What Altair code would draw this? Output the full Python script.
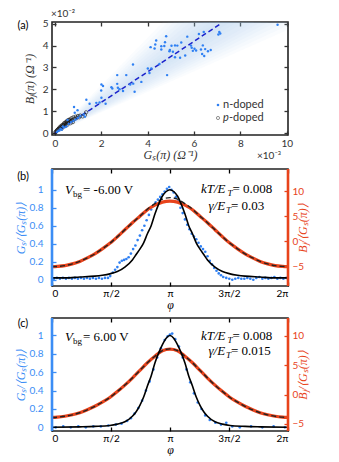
import altair as alt
import pandas as pd

# ---------------- panel (a) data (x in 1e-3 Ohm^-1, y in 1e-2 Ohm^-1) ----------------
n_x = [9.60, 7.09, 7.13, 7.05, 6.42, 6.21, 5.71, 5.45, 5.03, 5.18, 5.28, 4.96, 5.09, 4.80, 4.75, 4.72,
       5.40, 5.62, 5.18, 5.87, 5.90, 5.95, 6.02, 6.09, 6.30, 6.35, 6.44, 6.38, 6.48, 6.60, 6.72,
       4.37, 4.33, 4.13, 4.30, 4.59, 4.59, 4.94,
       3.37, 4.01, 4.16, 4.08, 4.51, 4.84, 3.73, 3.44, 3.08, 2.69, 2.69, 2.72, 2.79, 2.94, 2.48,
       2.01, 2.08, 2.01, 1.79, 2.19, 1.93, 1.50, 1.36, 0.83, 0.98, 0.86, 3.25, 3.38, 2.44, 2.00,
       0.10, 0.20, 0.30, 0.40, 0.50, 0.60, 0.70, 0.80, 0.90, 1.00, 1.10, 1.25, 0.55, 0.35, 0.25, 1.30, 0.15]
n_y = [4.95, 4.62, 4.55, 4.51, 4.62, 4.53, 4.41, 4.14, 3.99, 4.01, 4.00, 3.80, 3.72, 4.43, 4.15, 3.98,
       3.44, 3.55, 3.47, 4.00, 3.90, 3.76, 3.86, 3.78, 3.82, 3.62, 3.52, 4.01, 3.84, 3.74, 3.80,
       4.23, 4.05, 3.93, 3.87, 3.97, 3.82, 3.74,
       3.14, 2.95, 2.95, 2.75, 3.16, 2.65, 2.34, 1.89, 2.65, 2.65, 2.25, 2.07, 2.00, 1.92, 2.04,
       2.22, 2.15, 1.61, 1.38, 1.34, 1.40, 1.34, 1.52, 1.19, 1.04, 0.93, 2.22, 2.26, 2.10, 1.95,
       0.05, 0.12, 0.15, 0.25, 0.30, 0.42, 0.50, 0.55, 0.62, 0.70, 0.78, 0.85, 0.60, 0.30, 0.20, 0.75, 0.10]
p_x = [0.02, 0.05, 0.08, 0.10, 0.12, 0.15, 0.18, 0.20, 0.22, 0.25, 0.28, 0.30, 0.32, 0.35, 0.38, 0.40,
       0.42, 0.45, 0.48, 0.50, 0.52, 0.55, 0.58, 0.60, 0.62, 0.65, 0.70, 0.72, 0.75, 0.80, 0.85, 0.90,
       0.95, 1.00, 1.05, 1.10, 1.20, 1.30, 1.35, 0.30, 0.45, 0.55, 0.68, 0.78]
p_y = [0.03, 0.06, 0.10, 0.12, 0.15, 0.18, 0.20, 0.25, 0.22, 0.30, 0.28, 0.35, 0.30, 0.38, 0.36, 0.45,
       0.40, 0.48, 0.42, 0.50, 0.55, 0.48, 0.60, 0.52, 0.58, 0.62, 0.55, 0.68, 0.60, 0.72, 0.65, 0.75,
       0.70, 0.78, 0.72, 0.80, 0.76, 0.82, 0.95, 0.20, 0.32, 0.38, 0.45, 0.50]
fit_x = [0.0, 7.15]
fit_y = [0.0, 5.0]
band_lo = [0.47, 0.49, 0.51, 0.53, 0.55, 0.57, 0.59, 0.62, 0.645, 0.67]   # shaded cone edge slopes
band_hi = [1.09, 1.04, 0.99, 0.95, 0.91, 0.87, 0.83, 0.79, 0.76, 0.73]
a_xticks = [0, 2, 4, 6, 8, 10]
a_yticks = [0, 1, 2, 3, 4, 5]

# ---------------- panel (b) data ----------------
b_dot_phi = [0.05, 0.13, 0.21, 0.29, 0.37, 0.45, 0.53, 0.61, 0.69, 0.77, 0.85, 0.93, 1.01, 1.09, 1.17, 1.25,
             1.33, 1.41, 1.49,
             1.55, 1.62, 1.68, 1.74, 1.80, 1.86, 1.92, 1.98, 2.04, 2.10, 2.16, 2.22, 2.28, 2.34, 2.40, 2.46,
             2.52, 2.58, 2.64, 2.70, 2.76, 2.82, 2.88, 2.94, 3.00, 3.06, 3.12, 3.18, 3.24, 3.30, 3.36, 3.42,
             3.48, 3.54, 3.60, 3.66, 3.72, 3.78, 3.84, 3.90, 3.96, 4.02, 4.08, 4.14, 4.20, 4.26, 4.32, 4.38,
             4.44, 4.50, 4.56,
             4.64, 4.72, 4.80, 4.88, 4.96, 5.04, 5.12, 5.20, 5.28, 5.36, 5.44, 5.52, 5.60, 5.68, 5.76, 5.84,
             5.92, 6.00, 6.08, 6.16, 6.24]
b_dot_val = [0.01, 0.02, 0.01, 0.02, 0.01, 0.02, 0.01, 0.02, 0.01, 0.02, 0.01, 0.02, 0.01, 0.02, 0.01, 0.02,
             0.01, 0.02, 0.02,
             0.04, 0.08, 0.11, 0.14, 0.19, 0.21, 0.22, 0.23, 0.25, 0.29, 0.34, 0.38, 0.44, 0.49, 0.55, 0.60,
             0.66, 0.72, 0.78, 0.82, 0.86, 0.89, 0.92, 0.95, 0.98, 1.01, 1.03, 1.00, 0.97, 0.92, 0.87, 0.80,
             0.74, 0.67, 0.61, 0.56, 0.51, 0.48, 0.45, 0.41, 0.37, 0.34, 0.31, 0.26, 0.21, 0.17, 0.13, 0.10,
             0.07, 0.05, 0.03,
             0.02, 0.01, 0.00, 0.01, 0.02, 0.01, 0.01, 0.02, 0.01, 0.00, 0.02, 0.03, 0.01, 0.02, 0.01, 0.02,
             0.03, 0.01, 0.02, 0.01, 0.02]
b_fit_phi = [0.0, 0.34, 0.74, 1.14, 1.34, 1.54, 1.74, 1.94, 2.14, 2.24, 2.34, 2.44, 2.54, 2.64, 2.74, 2.84,
             2.94, 3.04, 3.14, 3.24, 3.34, 3.44, 3.54, 3.64, 3.74, 3.84, 3.94, 4.04, 4.14, 4.34, 4.54, 4.74,
             4.94, 5.14, 5.54, 5.94, 6.28]
b_fit_val = [0.02, 0.02, 0.03, 0.04, 0.05, 0.065, 0.09, 0.14, 0.22, 0.28, 0.34, 0.41, 0.51, 0.60, 0.73, 0.84,
             0.93, 0.98, 1.0, 0.98, 0.93, 0.84, 0.73, 0.60, 0.51, 0.41, 0.34, 0.28, 0.22, 0.14, 0.09, 0.065,
             0.05, 0.04, 0.03, 0.02, 0.02]
bj_phi = [0.0, 0.14, 0.34, 0.54, 0.74, 0.94, 1.14, 1.34, 1.54, 1.74, 1.94, 2.14, 2.34, 2.54, 2.74, 2.94, 3.14,
          3.34, 3.54, 3.74, 3.94, 4.14, 4.34, 4.54, 4.74, 4.94, 5.14, 5.34, 5.54, 5.74, 5.94, 6.14, 6.28]
b_bj_val = [-5.05, -5.0, -4.85, -4.5, -4.0, -3.3, -2.5, -1.5, -0.4, 0.9, 2.3, 3.7, 5.0, 6.3, 7.2, 7.8, 8.0,
            7.8, 7.2, 6.3, 5.0, 3.7, 2.3, 0.9, -0.4, -1.5, -2.5, -3.3, -4.0, -4.5, -4.85, -5.0, -5.05]
b_bjfit_val = [-5.05, -5.0, -4.85, -4.5, -4.0, -3.3, -2.5, -1.5, -0.4, 0.9, 2.3, 3.7, 5.0, 6.4, 7.5, 8.4, 8.7,
               8.4, 7.5, 6.4, 5.0, 3.7, 2.3, 0.9, -0.4, -1.5, -2.5, -3.3, -4.0, -4.5, -4.85, -5.0, -5.05]

# ---------------- panel (c) data ----------------
c_dot_phi = [0.1, 0.3, 0.5, 0.7, 0.9, 1.1, 1.3, 1.5, 1.7, 1.85, 2.0, 2.1, 2.2, 2.3, 2.4, 2.5, 2.6, 2.7, 2.8,
             2.9, 3.0, 3.08, 3.14, 3.2, 3.28, 3.38, 3.48, 3.58, 3.68, 3.78, 3.88, 3.98, 4.08, 4.2, 4.35, 4.5,
             4.64, 4.8, 5.0, 5.3, 5.6, 5.9, 6.2]
c_dot_val = [0.0, 0.01, 0.0, 0.01, 0.0, 0.01, 0.01, 0.02, 0.03, 0.04, 0.07, 0.10, 0.15, 0.21, 0.29, 0.40,
             0.50, 0.63, 0.76, 0.86, 0.95, 0.99, 1.01, 1.02, 0.96, 0.88, 0.76, 0.63, 0.49, 0.37, 0.27, 0.20,
             0.13, 0.08, 0.05, 0.03, 0.05, 0.01, 0.0, 0.01, 0.0, 0.01, 0.0]
c_fit_phi = [0.0, 0.74, 1.14, 1.54, 1.74, 1.94, 2.14, 2.24, 2.34, 2.44, 2.54, 2.64, 2.74, 2.84, 2.94, 3.04,
             3.14, 3.24, 3.34, 3.44, 3.54, 3.64, 3.74, 3.84, 3.94, 4.04, 4.14, 4.34, 4.54, 4.74, 5.14, 5.54,
             6.28]
c_fit_val = [0.0, 0.005, 0.01, 0.02, 0.035, 0.06, 0.12, 0.17, 0.24, 0.33, 0.45, 0.56, 0.70, 0.81, 0.90, 0.97,
             1.0, 0.97, 0.90, 0.81, 0.70, 0.56, 0.45, 0.33, 0.24, 0.17, 0.12, 0.06, 0.035, 0.02, 0.01, 0.005,
             0.0]
c_bj_val = [-3.9, -3.85, -3.7, -3.45, -3.1, -2.6, -2.0, -1.3, -0.5, 0.5, 1.6, 2.8, 4.1, 5.4, 6.5, 7.45, 7.7,
            7.45, 6.5, 5.4, 4.1, 2.8, 1.6, 0.5, -0.5, -1.3, -2.0, -2.6, -3.1, -3.45, -3.7, -3.85, -3.9]
c_bjfit_val = [-3.9, -3.85, -3.7, -3.45, -3.1, -2.6, -2.0, -1.3, -0.5, 0.5, 1.6, 2.8, 4.1, 5.4, 6.5, 7.45, 7.75,
               7.45, 6.5, 5.4, 4.1, 2.8, 1.6, 0.5, -0.5, -1.3, -2.0, -2.6, -3.1, -3.45, -3.7, -3.85, -3.9]

phi_ticks = [0, 1.5708, 3.1416, 4.7124, 6.2832]
phi_labels = ["0", "π/2", "π", "3π/2", "2π"]
gs_ticks = [0, 0.2, 0.4, 0.6, 0.8, 1]
bj_ticks = [-5, 0, 5, 10]

# ---------------- style ----------------
SANS = "Lato"
SERIF = "Liberation Serif"
BLUE = "#3b8df5"
DOT_BLUE = "#2f80f3"
RED = "#e8431b"
GRAY = "#333333"
W = 236
DUMMY = pd.DataFrame({"d": [0]})


def axis(orient, values, color, labels=True, lp=4, title=None, tp=2, angle=None, expr=None, fmt=None):
    kw = dict(orient=orient, values=values, tickSize=4, offset=-4, domain=False, grid=False,
              tickColor=color, tickWidth=1.3, labels=labels, labelColor=color, labelFont=SANS,
              labelFontSize=10, labelPadding=lp, title=title, titleColor=color, titleFont=SERIF,
              titleFontStyle="italic", titleFontWeight="normal", titleFontSize=12, titlePadding=tp)
    if angle is not None:
        kw["titleAngle"] = angle
    if expr is not None:
        kw["labelExpr"] = expr
    if fmt is not None:
        kw["format"] = fmt
    return alt.Axis(**kw)


def txt(s, x, y, size=12, style="normal", color="black", font=SERIF, align="left"):
    return alt.Chart(DUMMY).mark_text(text=s, fontSize=size, fontStyle=style, color=color, font=font,
                                      align=align, baseline="middle").encode(x=alt.value(x), y=alt.value(y))


# ---------------- panel (a) ----------------
xs_a = alt.Scale(domain=[-0.12, 10.05], nice=False, zero=False)
ys_a = alt.Scale(domain=[-0.09, 5.08], nice=False, zero=False)

band_rows = []
for i, (lo, hi) in enumerate(zip(band_lo, band_hi)):
    band_rows.append({"band": i, "x": 0.0, "lo": 0.0, "hi": 0.0})
    band_rows.append({"band": i, "x": 10.05, "lo": lo * 10.05, "hi": hi * 10.05})
bands_df = pd.DataFrame(band_rows)
n_df = pd.DataFrame({"x": n_x, "y": n_y})
p_df = pd.DataFrame({"x": p_x, "y": p_y})
fit_df = pd.DataFrame({"x": fit_x, "y": fit_y})

bands = alt.Chart(bands_df).mark_area(color="#9ec6ec", opacity=0.055, clip=True).encode(
    x=alt.X("x:Q", scale=xs_a, axis=axis("bottom", a_xticks, GRAY, lp=3, title="Gₛ(π)  (Ω⁻¹)", tp=1)),
    y=alt.Y("lo:Q", scale=ys_a, axis=axis("left", a_yticks, GRAY, lp=4, title="Bⱼ(π)  (Ω⁻¹)", tp=6)),
    y2="hi:Q", detail="band:N")
fit = alt.Chart(fit_df).mark_line(color="#1a22cc", strokeWidth=1.5, strokeDash=[5, 3]).encode(
    x=alt.X("x:Q", scale=xs_a, axis=axis("top", a_xticks, GRAY, labels=False)),
    y=alt.Y("y:Q", scale=ys_a, axis=axis("right", a_yticks, GRAY, labels=False)))
n_pts = alt.Chart(n_df).mark_circle(size=6, color=DOT_BLUE, opacity=1).encode(
    x=alt.X("x:Q", scale=xs_a, axis=None), y=alt.Y("y:Q", scale=ys_a, axis=None))
p_pts = alt.Chart(p_df).mark_point(size=11, color="#111", strokeWidth=0.85, filled=False).encode(
    x=alt.X("x:Q", scale=xs_a, axis=None), y=alt.Y("y:Q", scale=ys_a, axis=None))
leg_n = alt.Chart(DUMMY).mark_circle(size=7, color=DOT_BLUE, opacity=1).encode(x=alt.value(166), y=alt.value(83))
leg_p = alt.Chart(DUMMY).mark_point(size=10, color="#222", strokeWidth=0.7).encode(x=alt.value(166), y=alt.value(96))

panel_a = alt.layer(
    bands, fit, p_pts, n_pts, leg_n, leg_p,
    txt("n-doped", 171, 83, size=11, color=GRAY, font=SANS),
    txt("p", 171, 96, size=11, color=GRAY, font=SANS, style="italic"),
    txt("-doped", 177, 96, size=11, color=GRAY, font=SANS),
    txt("(a)", -29, 4, size=11, color="black", font=SANS, align="center"),
    txt("×10⁻²", -1, -8, size=10, color=GRAY, font=SANS),
    txt("×10⁻³", 205, 134, size=10, color=GRAY, font=SANS),
).properties(width=W, height=113)


# ---------------- panels (b), (c) ----------------
PHI_EXPR = ("datum.value < 0.5 ? '0' : datum.value < 2.5 ? 'π/2' : datum.value < 4 ? 'π' : "
            "datum.value < 5.5 ? '3π/2' : '2π'")


def phase_panel(label, dot_phi, dot_val, fit_phi, fit_val, bj_val, bjfit_val, ydom_l, ydom_r, H, notes):
    xs = alt.Scale(domain=[0, 6.2832], nice=False, zero=False)
    ysl = alt.Scale(domain=ydom_l, nice=False, zero=False)
    ysr = alt.Scale(domain=ydom_r, nice=False, zero=False)
    dots = pd.DataFrame({"phi": dot_phi, "v": dot_val})
    fitd = pd.DataFrame({"phi": fit_phi, "v": fit_val})
    bj = pd.DataFrame({"phi": bj_phi, "v": bj_val, "f": bjfit_val})
    dots_l = alt.Chart(dots).mark_circle(size=7, color=DOT_BLUE, opacity=1).encode(
        x=alt.X("phi:Q", scale=xs, axis=axis("bottom", phi_ticks, "black", lp=2, title="φ", tp=1,
                                              expr=PHI_EXPR)),
        y=alt.Y("v:Q", scale=ysl, axis=axis("left", gs_ticks, BLUE, lp=9, title="Gₛ/⟨Gₛ(π)⟩", tp=2,
                                             fmt="~g")))
    red_l = alt.Chart(bj).mark_line(color=RED, strokeWidth=3.2, interpolate="monotone").encode(
        x=alt.X("phi:Q", scale=xs, axis=axis("top", phi_ticks, "black", labels=False)),
        y=alt.Y("v:Q", scale=ysr, axis=axis("right", bj_ticks, RED, lp=4, title="Bⱼ/⟨Gₛ(π)⟩", tp=6,
                                             angle=270)))
    dash_l = alt.Chart(bj).mark_line(color="#222", strokeWidth=1.4, strokeDash=[5, 3],
                                     interpolate="monotone").encode(
        x=alt.X("phi:Q", scale=xs, axis=None), y=alt.Y("f:Q", scale=ysr, axis=None))
    fit_l = alt.Chart(fitd).mark_line(color="black", strokeWidth=1.6, interpolate="monotone").encode(
        x=alt.X("phi:Q", scale=xs, axis=None), y=alt.Y("v:Q", scale=ysl, axis=None))
    frame_l = alt.Chart(DUMMY).mark_rule(color=BLUE, strokeWidth=2.6).encode(
        x=alt.value(0), y=alt.value(0), y2=alt.value(H))
    frame_r = alt.Chart(DUMMY).mark_rule(color=RED, strokeWidth=2.6).encode(
        x=alt.value(W), y=alt.value(0), y2=alt.value(H))
    layers = [dots_l, red_l, dash_l, fit_l, frame_l, frame_r,
              txt(label, -29, 8 if label == "(b)" else 6, size=11, font=SANS, align="center")]
    layers += notes
    return alt.layer(*layers).resolve_scale(y="independent").properties(width=W, height=H)


def notes(vtext, vy, gtext, ky, gy):
    return [
        txt("V", 13, vy, size=13, style="italic"),
        txt("bg", 21, vy + 4, size=9),
        txt(vtext, 31, vy, size=13),
        txt("kT/E", 149, ky, size=13, style="italic"),
        txt("T", 175.5, ky + 4, size=9, style="italic"),
        txt("= 0.008", 180.5, ky, size=13),
        txt("γ/E", 156.5, gy, size=13, style="italic"),
        txt("T", 174, gy + 4, size=9, style="italic"),
        txt(gtext, 179, gy, size=13),
    ]


panel_b = phase_panel("(b)", b_dot_phi, b_dot_val, b_fit_phi, b_fit_val, b_bj_val, b_bjfit_val,
                      [-0.07, 1.23], [-8.9, 14.4], 117, notes("= -6.00 V", 21, "= 0.03", 20, 37))
panel_c = phase_panel("(c)", c_dot_phi, c_dot_val, c_fit_phi, c_fit_val, c_bj_val, c_bjfit_val,
                      [-0.04, 1.19], [-6.2, 13.0], 113, notes("= 6.00 V", 19, "= 0.015", 18, 33))

chart = alt.vconcat(panel_a, panel_b, panel_c, spacing=4).properties(
    padding={"left": 5, "top": 0, "right": 5, "bottom": 0}
).configure_view(stroke="#222", strokeWidth=1.6)

chart.save("out.html", embed_options={"renderer": "svg", "actions": False})
